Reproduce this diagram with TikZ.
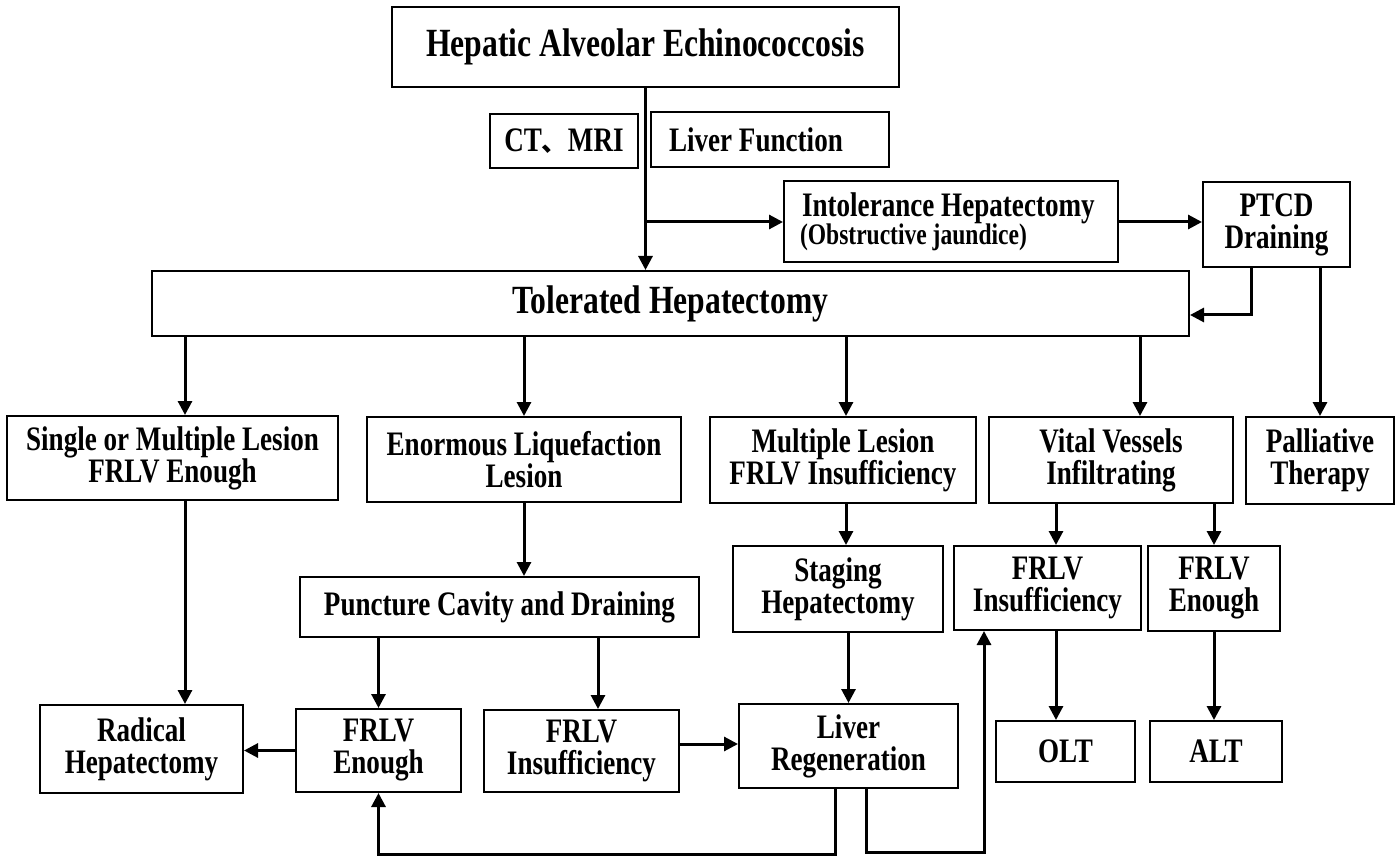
\documentclass[tikz,border=0pt]{standalone}
\usepackage{fontspec}
\setmainfont{Liberation Serif}[FakeStretch=0.79]
\newfontfamily\cjkfont{Noto Sans CJK SC}
\usetikzlibrary{arrows.meta}
\newcommand\bigfnt{\fontsize{40}{44}\selectfont\bfseries}
\newcommand\medfnt{\fontsize{34.3}{32}\selectfont\bfseries}
\newcommand\smlfnt{\fontsize{29.8}{29}\selectfont\bfseries}
\tikzset{
  nbox/.style={draw, line width=2pt, inner sep=0pt, align=center, font=\medfnt, fill=white},
  arr/.style={line width=3pt, -{Triangle[length=14pt,width=14pt]}},
}
\begin{document}
\begin{tikzpicture}[x=1pt,y=-1pt]
\fill[white] (0,0) rectangle (1400,866);
\useasboundingbox (0,0) rectangle (1400,866);
% nodes
\node[nbox, font=\bigfnt, minimum width=507pt, minimum height=80pt] (top) at (645.5,47) {Hepatic Alveolar Echinococcosis};
\node[nbox, minimum width=148pt, minimum height=54pt] (ct) at (564,141) {CT{\cjkfont\fontsize{26}{30}\selectfont 、}MRI};
\node[nbox, minimum width=238pt, minimum height=55pt, text width=202pt, inner xsep=18pt, align=flush left] (lf) at (770,139.5) {Liver Function};
\node[nbox, minimum width=334pt, minimum height=81pt, text width=302pt, inner xsep=16pt, align=flush left] (intol) at (951,221.5) {\hspace*{2pt}Intolerance Hepatectomy\\[-4pt]{\smlfnt (Obstructive jaundice)}};
\node[nbox, minimum width=147pt, minimum height=85pt] (ptcd) at (1276.5,224.5) {PTCD\\Draining};
\node[nbox, font=\bigfnt, minimum width=1037pt, minimum height=65pt] (tol) at (670.5,303.5) {Tolerated Hepatectomy};
\node[nbox, minimum width=331pt, minimum height=84pt] (single) at (172.5,458) {Single or Multiple Lesion\\FRLV Enough};
\node[nbox, minimum width=314pt, minimum height=85pt] (enorm) at (524,459.5) {Enormous Liquefaction\\Lesion};
\node[nbox, minimum width=266pt, minimum height=86pt] (mult) at (843,460) {Multiple Lesion\\FRLV Insufficiency};
\node[nbox, minimum width=244pt, minimum height=86pt] (vital) at (1111,460) {Vital Vessels\\Infiltrating};
\node[nbox, minimum width=148pt, minimum height=87pt] (pall) at (1320,460.5) {Palliative\\Therapy};
\node[nbox, minimum width=399pt, minimum height=60pt] (punct) at (499.5,607) {Puncture Cavity and Draining};
\node[nbox, minimum width=210pt, minimum height=86pt] (stag) at (838,589) {Staging\\Hepatectomy};
\node[nbox, minimum width=187pt, minimum height=84pt] (fi2) at (1047.5,588) {FRLV\\Insufficiency};
\node[nbox, minimum width=132pt, minimum height=85pt] (fe2) at (1214,588.5) {FRLV\\Enough};
\node[nbox, minimum width=203pt, minimum height=88pt] (rad) at (141.5,749) {Radical\\Hepatectomy};
\node[nbox, minimum width=165pt, minimum height=83pt] (fe1) at (378.5,750.5) {FRLV\\Enough};
\node[nbox, minimum width=195pt, minimum height=82pt] (fi1) at (581.5,751) {FRLV\\Insufficiency};
\node[nbox, minimum width=219pt, minimum height=84pt] (lr) at (848.5,746) {Liver\\Regeneration};
\node[nbox, minimum width=139pt, minimum height=61pt] (olt) at (1065.5,751.5) {OLT};
\node[nbox, minimum width=132pt, minimum height=61pt] (alt) at (1216,751.5) {ALT};
% helper coordinates
\coordinate (x185) at (185,0);
\coordinate (x598) at (598,0);
\coordinate (x846) at (846,0);
\coordinate (x1140) at (1140,0);
\coordinate (x1056) at (1056,0);
\coordinate (x1251) at (1251,0);
\coordinate (x835) at (835,0);
\coordinate (x866) at (866,0);
\coordinate (x984) at (984,0);
\coordinate (y222) at (0,222);
\coordinate (y315) at (0,315);
\coordinate (y744) at (0,744);
\coordinate (yb1) at (0,854);
\coordinate (yb2) at (0,852);
% connectors
\draw[arr] (top.south) -- (top.south |- tol.north);
\draw[arr] (top.south |- y222) -- (intol.west |- y222);
\draw[arr] (intol.east |- y222) -- (ptcd.west |- y222);
\draw[arr] (x1251 |- ptcd.south) |- (tol.east |- y315);
\draw[arr] (pall.north |- ptcd.south) -- (pall.north);
\draw[arr] (x185 |- tol.south) -- (x185 |- single.north);
\draw[arr] (enorm.north |- tol.south) -- (enorm.north);
\draw[arr] (x846 |- tol.south) -- (x846 |- mult.north);
\draw[arr] (x1140 |- tol.south) -- (x1140 |- vital.north);
\draw[arr] (enorm.south) -- (enorm.south |- punct.north);
\draw[arr] (x185 |- single.south) -- (x185 |- rad.north);
\draw[arr] (fe1.north |- punct.south) -- (fe1.north);
\draw[arr] (x598 |- punct.south) -- (x598 |- fi1.north);
\draw[arr] (fe1.west) -- (fe1.west -| rad.east);
\draw[arr] (fi1.east |- y744) -- (lr.west |- y744);
\draw[arr] (x846 |- mult.south) -- (x846 |- stag.north);
\draw[arr] (lr.north |- stag.south) -- (lr.north);
\draw[arr] (x1056 |- vital.south) -- (x1056 |- fi2.north);
\draw[arr] (fe2.north |- vital.south) -- (fe2.north);
\draw[arr] (x1056 |- fi2.south) -- (x1056 |- olt.north);
\draw[arr] (fe2.south) -- (fe2.south |- alt.north);
\draw[arr] (x835 |- lr.south) -- (x835 |- yb1) -| (fe1.south);
\draw[arr] (x866 |- lr.south) -- (x866 |- yb2) -| (x984 |- fi2.south);
\end{tikzpicture}
\end{document}
